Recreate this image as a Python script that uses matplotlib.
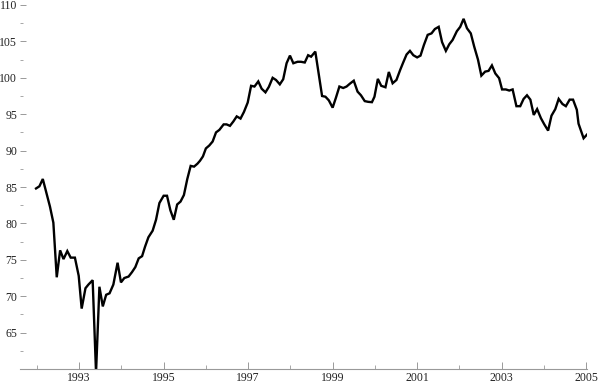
import matplotlib
matplotlib.use("Agg")
import matplotlib.pyplot as plt
from matplotlib.ticker import MultipleLocator, FixedLocator

years = [
    1991.98, 1992.06, 1992.14, 1992.31, 1992.39, 1992.47, 1992.55, 1992.63,
    1992.72, 1992.80, 1992.90, 1992.99, 1993.06, 1993.15, 1993.22, 1993.32,
    1993.40, 1993.48, 1993.56, 1993.64, 1993.72, 1993.81, 1993.91, 1993.99,
    1994.07, 1994.17, 1994.25, 1994.33, 1994.41, 1994.49, 1994.56, 1994.64,
    1994.74, 1994.82, 1994.90, 1995.00, 1995.08, 1995.16, 1995.24, 1995.32,
    1995.40, 1995.48, 1995.56, 1995.64, 1995.72, 1995.80, 1995.86, 1995.93,
    1996.00, 1996.08, 1996.16, 1996.24, 1996.32, 1996.42, 1996.49, 1996.57,
    1996.65, 1996.73, 1996.82, 1996.90, 1996.99, 1997.07, 1997.15, 1997.24,
    1997.32, 1997.41, 1997.49, 1997.58, 1997.66, 1997.75, 1997.83, 1997.91,
    1997.99, 1998.07, 1998.17, 1998.25, 1998.34, 1998.42, 1998.49, 1998.59,
    1998.75, 1998.83, 1998.91, 1999.00, 1999.08, 1999.16, 1999.25, 1999.33,
    1999.41, 1999.50, 1999.59, 1999.67, 1999.76, 1999.84, 1999.93, 1999.99,
    2000.07, 2000.15, 2000.25, 2000.33, 2000.42, 2000.51, 2000.60, 2000.60,
    2000.67, 2000.75, 2000.83, 2000.91, 2001.00, 2001.08, 2001.16, 2001.25,
    2001.34, 2001.42, 2001.51, 2001.59, 2001.68, 2001.76, 2001.84, 2001.94,
    2002.02, 2002.10, 2002.18, 2002.27, 2002.35, 2002.44, 2002.52, 2002.61,
    2002.69, 2002.77, 2002.85, 2002.94, 2003.01, 2003.10, 2003.18, 2003.26,
    2003.35, 2003.44, 2003.52, 2003.60, 2003.68, 2003.76, 2003.84, 2003.93,
    2004.01, 2004.10, 2004.18, 2004.27, 2004.35, 2004.44, 2004.52, 2004.61,
    2004.69, 2004.78, 2004.82, 2004.94, 2005.02,
]
values = [
    84.8, 85.1, 86.1, 82.3, 80.1, 72.6, 76.3, 75.1,
    76.2, 75.3, 75.3, 72.8, 68.3, 71.1, 71.6, 72.2,
    59.5, 71.3, 68.6, 70.2, 70.4, 71.6, 74.6, 71.9,
    72.5, 72.7, 73.3, 74.0, 75.2, 75.5, 76.8, 78.1,
    79.0, 80.5, 82.8, 83.8, 83.8, 81.8, 80.5, 82.6,
    83.0, 83.9, 86.1, 87.9, 87.8, 88.2, 88.6, 89.2,
    90.3, 90.7, 91.25, 92.5, 92.85, 93.6, 93.6, 93.4,
    94.0, 94.7, 94.4, 95.3, 96.6, 98.9, 98.8, 99.5,
    98.5, 98.0, 98.75, 100.0, 99.7, 99.1, 99.8, 102.0,
    103.05, 102.0, 102.2, 102.2, 102.1, 103.1, 102.9, 103.6,
    97.5, 97.4, 96.9, 95.9, 97.3, 98.8, 98.6, 98.8,
    99.2, 99.6, 98.1, 97.6, 96.8, 96.7, 96.65, 97.4,
    99.85, 98.9, 98.7, 100.8, 99.25, 99.7, 101.1, 101.1,
    102.1, 103.2, 103.7, 103.1, 102.8, 103.05, 104.5, 105.9,
    106.1, 106.7, 107.0, 104.9, 103.7, 104.6, 105.2, 106.4,
    107.0, 108.1, 106.8, 106.1, 104.3, 102.5, 100.3, 100.85,
    100.95, 101.7, 100.6, 99.95, 98.4, 98.4, 98.25, 98.4,
    96.1, 96.1, 97.1, 97.6, 97.0, 94.9, 95.7, 94.45,
    93.6, 92.75, 94.8, 95.7, 97.1, 96.4, 96.1, 97.0,
    97.0, 95.6, 93.7, 91.7, 92.2,
]

year_ticks = [1993, 1995, 1997, 1999, 2001, 2003, 2005]
minor_year_ticks = [1992, 1994, 1996, 1998, 2000, 2002, 2004]

plt.rcParams['font.family'] = ['Liberation Serif', 'DejaVu Serif']

fig = plt.figure(figsize=(6.0, 3.84), dpi=100)
ax = fig.add_axes([0.0333, 0.039, 0.945, 0.948])

ax.plot(years, values, color='black', lw=1.7, solid_joinstyle='miter')

ax.set_xlim(1991.6, 2005.02)
ax.set_ylim(60, 110)

# Mathematica-like axes: only the bottom axis line is drawn
for side in ['top', 'right', 'left']:
    ax.spines[side].set_visible(False)
ax.spines['bottom'].set_color('#999999')
ax.spines['bottom'].set_linewidth(0.8)

ax.xaxis.set_major_locator(FixedLocator(year_ticks))
ax.xaxis.set_minor_locator(FixedLocator(minor_year_ticks))
ax.set_xticklabels([str(y) for y in year_ticks])
ax.yaxis.set_major_locator(MultipleLocator(5))
ax.yaxis.set_minor_locator(MultipleLocator(2.5))
ax.set_yticks([65, 70, 75, 80, 85, 90, 95, 100, 105, 110])

ax.tick_params(axis='x', which='major', direction='in', length=5, width=0.7,
               color='#999999', labelsize=8.5, labelcolor='#222222', pad=2)
ax.tick_params(axis='x', which='minor', direction='in', length=3, width=0.6,
               color='#999999')
ax.tick_params(axis='y', which='major', direction='in', length=4, width=0.7,
               color='#999999', labelsize=8.5, labelcolor='#222222', pad=2)
ax.tick_params(axis='y', which='minor', direction='in', length=2, width=0.6,
               color='#999999')

fig.savefig('out.png', dpi=100)
